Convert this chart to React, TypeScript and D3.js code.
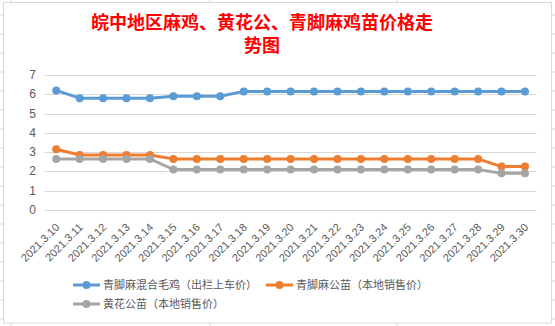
import React from "react";
import * as d3 from "d3";

const categories = ["2021.3.10","2021.3.11","2021.3.12","2021.3.13","2021.3.14","2021.3.15","2021.3.16","2021.3.17","2021.3.18","2021.3.19","2021.3.20","2021.3.21","2021.3.22","2021.3.23","2021.3.24","2021.3.25","2021.3.26","2021.3.27","2021.3.28","2021.3.29","2021.3.30"];
const blueValues = [6.2,5.8,5.8,5.8,5.8,5.9,5.9,5.9,6.15,6.15,6.15,6.15,6.15,6.15,6.15,6.15,6.15,6.15,6.15,6.15,6.15];
const orangeValues = [3.15,2.85,2.85,2.85,2.85,2.65,2.65,2.65,2.65,2.65,2.65,2.65,2.65,2.65,2.65,2.65,2.65,2.65,2.65,2.25,2.25];
const grayValues = [2.65,2.65,2.65,2.65,2.65,2.1,2.1,2.1,2.1,2.1,2.1,2.1,2.1,2.1,2.1,2.1,2.1,2.1,2.1,1.9,1.9];
const seriesNames = ["青脚麻混合毛鸡（出栏上车价）","青脚麻公苗（本地销售价）","黄花公苗（本地销售价）"];
const yTicks = [0,1,2,3,4,5,6,7];
const titleLines = ["皖中地区麻鸡、黄花公、青脚麻鸡苗价格走","势图"];

const colors = ["#5B9BD5", "#ED7D31", "#A5A5A5"];
const allSeries = [blueValues, orangeValues, grayValues];

export default function App() {
  const W = 555, H = 326;
  const x = d3.scaleBand<string>().domain(categories).range([44.5, 536.7]);
  const y = d3.scaleLinear().domain([0, 7]).range([210, 75]);
  const cx = (c: string) => (x(c) as number) + x.bandwidth() / 2;
  const line = d3.line<number>().x((_, i) => cx(categories[i])).y((v) => y(v));
  const font = "'Liberation Sans', 'Noto Sans CJK SC', sans-serif";
  const cjk = "'Noto Sans CJK SC', sans-serif";
  const rows = d3.range(15, 326, 19);
  const legend = [
    { i: 0, x: 73, y: 285 },
    { i: 1, x: 266, y: 285 },
    { i: 2, x: 73, y: 304 },
  ];
  return (
    <svg width={W} height={H} style={{ position: "absolute", left: 0, top: 0, background: "#fff" }}>
      {rows.map((r) => (
        <g key={r}>
          <line x1={0} x2={3} y1={r} y2={r} stroke="#d0d7e5" />
          <line x1={552} x2={555} y1={r} y2={r} stroke="#d0d7e5" />
        </g>
      ))}
      {[11, 210, 397].map((c) => (
        <g key={c}>
          <line x1={c} x2={c} y1={0} y2={3} stroke="#d0d7e5" />
          <line x1={c} x2={c} y1={323} y2={326} stroke="#d0d7e5" />
        </g>
      ))}
      <rect x={3.5} y={2.5} width={548} height={320.5} fill="#fff" stroke="#d9d9d9" />
      <text textAnchor="middle" fill="#FF0000" fontSize={18} fontWeight="bold" fontFamily={cjk}>
        {titleLines.map((t, i) => (
          <tspan key={i} x={262} y={29 + i * 23}>{t}</tspan>
        ))}
      </text>
      {yTicks.map((t) => (
        <g key={t}>
          <line x1={44.5} x2={536.7} y1={Math.round(y(t)) + 0.5} y2={Math.round(y(t)) + 0.5} stroke="#d9d9d9" />
          <text x={36} y={y(t) + 4} textAnchor="end" fill="#595959" fontSize={12} fontFamily={font}>{t}</text>
        </g>
      ))}
      {categories.map((c) => (
        <text key={c} transform={`translate(${cx(c) + 4},${228}) rotate(-45)`} textAnchor="end" fill="#595959" fontSize={11} fontFamily={font}>{c}</text>
      ))}
      {allSeries.map((vals, si) => (
        <g key={si}>
          <path d={line(vals) || ""} fill="none" stroke={colors[si]} strokeWidth={3} strokeLinejoin="round" />
          {vals.map((v, i) => (
            <circle key={i} cx={cx(categories[i])} cy={y(v)} r={4} fill={colors[si]} />
          ))}
        </g>
      ))}
      {legend.map((l) => (
        <g key={l.i}>
          <line x1={l.x} x2={l.x + 27} y1={l.y} y2={l.y} stroke={colors[l.i]} strokeWidth={3} />
          <circle cx={l.x + 13.5} cy={l.y} r={4} fill={colors[l.i]} />
          <text x={l.x + 30} y={l.y + 4} fill="#595959" fontSize={11} fontFamily={cjk}>{seriesNames[l.i]}</text>
        </g>
      ))}
    </svg>
  );
}
